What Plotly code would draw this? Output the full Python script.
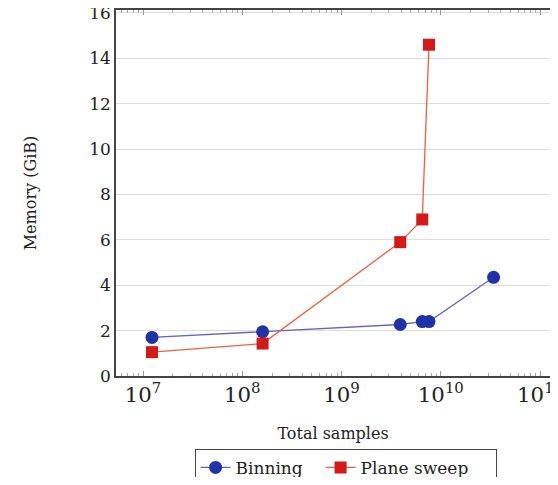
import plotly.graph_objects as go

# Data
binning_x = [1.23e7, 1.6e8, 3.9e9, 6.5e9, 7.6e9, 3.4e10]
binning_y = [1.7, 1.95, 2.27, 2.4, 2.4, 4.35]
sweep_x = [1.23e7, 1.6e8, 3.9e9, 6.5e9, 7.6e9]
sweep_y = [1.05, 1.43, 5.9, 6.9, 14.6]
y_ticks = [0, 2, 4, 6, 8, 10, 12, 14, 16]

FONT = "DejaVu Serif"

fig = go.Figure()
fig.add_trace(go.Scatter(
    x=binning_x, y=binning_y, mode="lines+markers", name="Binning",
    line=dict(color="#6464c8", width=1.3),
    marker=dict(symbol="circle", size=13, color="#1f33a6"),
    legendwidth=80,
))
fig.add_trace(go.Scatter(
    x=sweep_x, y=sweep_y, mode="lines+markers", name="Plane sweep",
    line=dict(color="#ee6040", width=1.3),
    marker=dict(symbol="square", size=12, color="#d21a1a"),
    legendwidth=130,
))

# page body adds an 8px margin all round, so the figure is 542x469
fig.update_layout(
    width=542, height=469,
    margin=dict(l=108, r=0, t=2, b=101, autoexpand=False),
    paper_bgcolor="white", plot_bgcolor="white",
    font=dict(family=FONT, size=16, color="#222"),
    showlegend=True,
    legend=dict(
        orientation="h", x=0.529, xanchor="center", y=-0.199, yanchor="top",
        bordercolor="#444", borderwidth=1, font=dict(size=17, family=FONT),
        tracegroupgap=0,
    ),
    xaxis=dict(
        type="log", range=[6.727, 11.10], dtick=1, exponentformat="power",
        automargin=False, ticklabeloverflow="allow",
        showgrid=False, zeroline=False,
        showline=True, linecolor="#444", linewidth=1.5, mirror="ticks",
        ticks="inside", ticklen=5, tickcolor="#999",
        minor=dict(ticks="inside", ticklen=3, tickcolor="#aaa", dtick="D1", showgrid=False),
        tickfont=dict(size=17, family=FONT),
        title=dict(text="Total samples", font=dict(size=16, family=FONT), standoff=21),
    ),
    yaxis=dict(
        range=[0, 16.13], tickvals=y_ticks, automargin=False, ticklabeloverflow="allow",
        showgrid=True, gridcolor="#ddd", gridwidth=1, zeroline=False,
        showline=True, linecolor="#444", linewidth=1.5, mirror=True,
        ticks="", tickfont=dict(size=17, family=FONT), ticklabelstandoff=0,
        title=dict(text="Memory (GiB)", font=dict(size=16, family=FONT), standoff=49),
    ),
)

fig.write_html("out.html")
